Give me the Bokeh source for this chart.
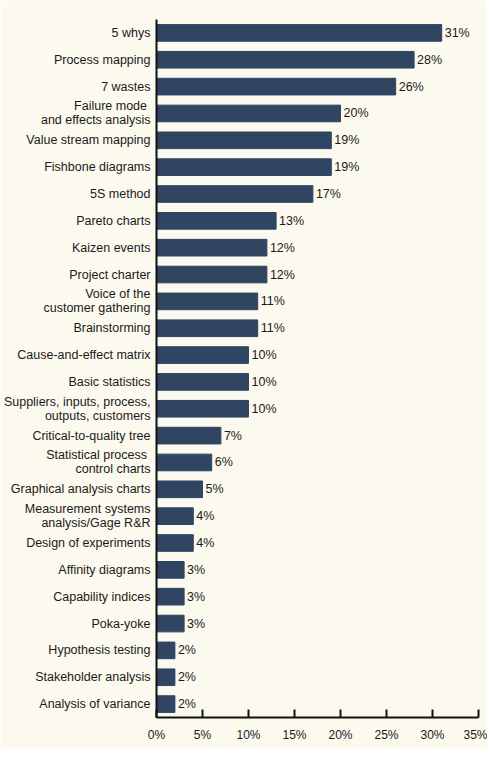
from bokeh.plotting import figure
from bokeh.models import ColumnDataSource, FixedTicker, Range1d
from bokeh.core.properties import value
from bokeh.embed import file_html
from bokeh.resources import INLINE

tools_list = [
    "5 whys",
    "Process mapping",
    "7 wastes",
    "Failure mode \nand effects analysis",
    "Value stream mapping",
    "Fishbone diagrams",
    "5S method",
    "Pareto charts",
    "Kaizen events",
    "Project charter",
    "Voice of the\ncustomer gathering",
    "Brainstorming",
    "Cause-and-effect matrix",
    "Basic statistics",
    "Suppliers, inputs, process,\noutputs, customers",
    "Critical-to-quality tree",
    "Statistical process \ncontrol charts",
    "Graphical analysis charts",
    "Measurement systems\nanalysis/Gage R&R",
    "Design of experiments",
    "Affinity diagrams",
    "Capability indices",
    "Poka-yoke",
    "Hypothesis testing",
    "Stakeholder analysis",
    "Analysis of variance",
]
percent = [31, 28, 26, 20, 19, 19, 17, 13, 12, 12, 11, 11, 10, 10, 10,
           7, 6, 5, 4, 4, 3, 3, 3, 2, 2, 2]
tick_values = [0, 5, 10, 15, 20, 25, 30, 35]
tick_labels = {t: f"{t}%" for t in tick_values}

BG = "#fcf9ef"
BAR = "#2f4562"
FONT = "Liberation Sans"

source = ColumnDataSource(dict(
    tool=tools_list,
    pct=percent,
    lbl=[f"{v}%" for v in percent],
))

p = figure(
    width=487, height=748,
    y_range=list(reversed(tools_list)),
    x_range=Range1d(0, 35),
    output_backend="svg", toolbar_location=None,
    min_border_left=155, min_border_right=9,
    min_border_top=19, min_border_bottom=31,
)
p.background_fill_color = BG
p.border_fill_color = BG
p.outline_line_color = None
p.xgrid.grid_line_color = None
p.ygrid.grid_line_color = None

p.hbar(y="tool", right="pct", left=0, height=0.62, source=source,
       fill_color=BAR, line_color=BAR)

p.text(x="pct", y="tool", text="lbl", source=source, x_offset=3,
       text_baseline="middle", text_align="left",
       text_font=value(FONT), text_font_size="12.5px", text_color="#1a1a1a")

xa = p.xaxis[0]
xa.ticker = FixedTicker(ticks=tick_values)
xa.major_label_overrides = tick_labels
xa.major_tick_in = 8
xa.major_tick_out = 0
xa.minor_tick_line_color = None
xa.axis_line_width = 2
xa.major_tick_line_width = 2
xa.axis_line_color = "#111111"
xa.major_tick_line_color = "#111111"
xa.major_label_text_font = FONT
xa.major_label_text_font_size = "12px"
xa.major_label_text_color = "#1a1a1a"
xa.major_label_standoff = 10

ya = p.yaxis[0]
ya.major_tick_in = 0
ya.major_tick_out = 0
ya.minor_tick_line_color = None
ya.axis_line_width = 2
ya.axis_line_color = "#111111"
ya.major_label_text_font = FONT
ya.major_label_text_font_size = "12.5px"
ya.major_label_text_line_height = 1.0
ya.major_label_text_color = "#1a1a1a"
ya.major_label_standoff = 6

open("out.html", "w").write(file_html(p, INLINE))
